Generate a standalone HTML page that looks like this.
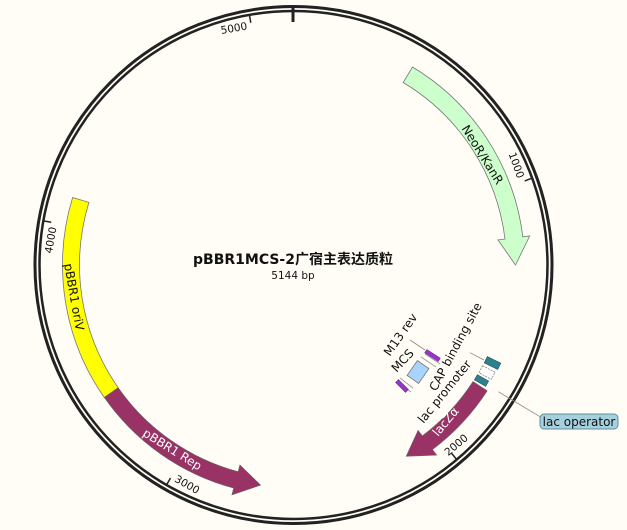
<!DOCTYPE html>
<html><head><meta charset="utf-8"><style>
html,body{margin:0;padding:0;background:#fffdf6;}
svg{display:block;font-family:"DejaVu Sans","Liberation Sans","Noto Sans CJK SC",sans-serif;}
</style></head><body>
<svg width="627" height="530" viewBox="0 0 627 530" xmlns="http://www.w3.org/2000/svg">
<rect width="627" height="530" fill="#fffdf6"/>
<circle cx="293.5" cy="265" r="258.5" fill="none" stroke="#222" stroke-width="3"/>
<circle cx="293.5" cy="265" r="254" fill="none" stroke="#222" stroke-width="2.5"/>
<line x1="293" y1="5" x2="293" y2="22" stroke="#222" stroke-width="3"/>
<g stroke="#222" stroke-width="1.5">
<line x1="249.4" y1="14.9" x2="250.8" y2="22.7"/>
<line x1="532.2" y1="178.1" x2="524.7" y2="180.9"/>
<line x1="456.8" y1="459.6" x2="451.6" y2="453.4"/>
<line x1="166.5" y1="485" x2="170.5" y2="478"/>
<line x1="43.4" y1="220.9" x2="51.2" y2="222.3"/>
</g>
<g font-size="10.5" fill="#111">
<text transform="translate(247.7,29.4) rotate(-10)" text-anchor="end">5000</text>
<text transform="translate(517.6,179) rotate(70)" text-anchor="end">1000</text>
<text transform="translate(448.3,456.2) rotate(-40)">2000</text>
<text transform="translate(173.8,481) rotate(30)">3000</text>
<text transform="translate(56.5,227.5) rotate(-80)" text-anchor="end">4000</text>
</g>
<path d="M412.5,67 A231,231 0 0 1 522.8,236.8 L529.7,236 L515.5,265 L498,239.9 L505,239 A213,213 0 0 0 403.2,82.5 Z" fill="#ccffcc" stroke="#777" stroke-width="0.8"/>
<text transform="translate(482,155) rotate(58)" font-size="12" text-anchor="middle" dominant-baseline="middle" fill="#111">NeoR/KanR</text>
<path d="M72.6,197.5 A231,231 0 0 0 104.3,397.5 L118.2,387.7 A214,214 0 0 1 88.9,202.4 Z" fill="#ffff00" stroke="#777" stroke-width="0.8"/>
<text transform="translate(73.5,297) rotate(80)" font-size="12" text-anchor="middle" dominant-baseline="middle" fill="#111">pBBR1 oriV</text>
<path d="M118.2,387.7 L104.3,397.5 A231,231 0 0 0 233.7,488.1 L231.9,494.9 L260.6,485.1 L239.9,465 L238.1,471.7 A214,214 0 0 1 118.2,387.7 Z" fill="#993366" stroke="#666" stroke-width="0.6"/>
<text transform="translate(172,450) rotate(32)" font-size="12" text-anchor="middle" dominant-baseline="middle" fill="#fff">pBBR1 Rep</text>
<path d="M473,381.5 L487.2,390.8 A231,231 0 0 1 432.5,449.5 L436.7,455.1 L406.2,456.3 L418.1,430.3 L422.3,435.9 A214,214 0 0 0 473,381.5 Z" fill="#993366" stroke="#666" stroke-width="0.6"/>
<text transform="translate(446,422) rotate(-50)" font-size="12" text-anchor="middle" dominant-baseline="middle" fill="#fff">lacZα</text>
<rect x="-7.5" y="-3.5" width="15" height="7" transform="translate(492.5,363) rotate(26)" fill="#2e7f8f" stroke="#1d5560" stroke-width="0.6"/>
<rect x="-7" y="-4" width="14" height="8" transform="translate(487,372.5) rotate(28)" fill="#fff" stroke="#777" stroke-width="0.7" stroke-dasharray="2,1"/>
<rect x="-6.5" y="-3" width="13" height="6" transform="translate(481.5,380.5) rotate(30)" fill="#2e7f8f" stroke="#1d5560" stroke-width="0.6"/>
<line x1="470" y1="352.7" x2="484" y2="360" stroke="#888" stroke-width="0.8"/>
<line x1="498.3" y1="391.7" x2="540" y2="416.7" stroke="#888" stroke-width="0.8"/>
<rect x="540" y="414" width="78" height="15" rx="4" fill="#a7d0df" stroke="#5c8fa0" stroke-width="1"/>
<text x="579" y="426" font-size="12" text-anchor="middle" fill="#111">lac operator</text>
<rect x="-7" y="-9" width="14" height="18" transform="translate(418,372) rotate(35)" fill="#a8d4ff" stroke="#777" stroke-width="0.8"/>
<path d="M421,357 L436,367 M400,378 L413,388 M425,354 L440,364 M397,382 L411,392" stroke="#999" stroke-width="0.8" fill="none"/>
<rect x="-8" y="-2" width="16" height="4" transform="translate(432.5,355.5) rotate(33)" fill="#9933cc" stroke="#552277" stroke-width="0.5"/>
<rect x="-7" y="-2" width="14" height="4" transform="translate(402,386) rotate(45)" fill="#9933cc" stroke="#552277" stroke-width="0.5"/>
<line x1="410" y1="340" x2="425" y2="350" stroke="#888" stroke-width="0.8"/>
<g font-size="12" fill="#111" text-anchor="middle" dominant-baseline="middle">
<text transform="translate(401,335) rotate(-55)">M13 rev</text>
<text transform="translate(403,361) rotate(-47)">MCS</text>
<text transform="translate(456,347) rotate(-62)">CAP binding site</text>
<text transform="translate(445,392) rotate(-51)">lac promoter</text>
</g>
<text x="293" y="264" font-size="14" font-weight="bold" text-anchor="middle" fill="#111">pBBR1MCS-2广宿主表达质粒</text>
<text x="293" y="279" font-size="10.5" text-anchor="middle" fill="#111">5144 bp</text>
</svg>
</body></html>
